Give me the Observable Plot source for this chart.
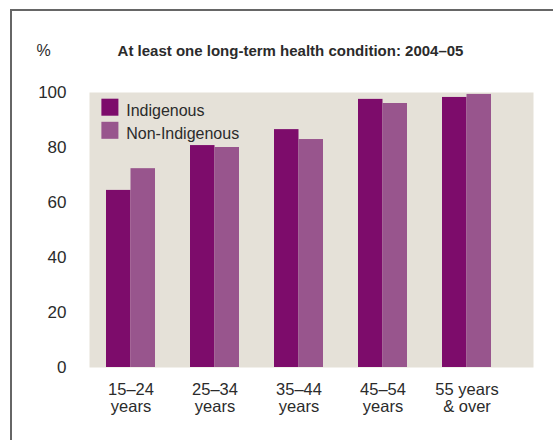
<!DOCTYPE html>
<html>
<head>
<meta charset="utf-8">
<script src="https://cdn.jsdelivr.net/npm/d3@7"></script>
<script src="https://cdn.jsdelivr.net/npm/@observablehq/plot@0.6"></script>
<style>
  html, body { margin: 0; padding: 0; background: #fff; }
  #wrap { position: relative; width: 553px; height: 440px; overflow: hidden; }
  #border { position: absolute; left: 10px; top: 9px; width: 600px; height: 500px;
            border-top: 2px solid #666; border-left: 2px solid #666; }
  #chart { position: absolute; left: 0; top: 0; }
</style>
</head>
<body>
<div id="wrap"><div id="border"></div><div id="chart"></div></div>
<script>
const ageGroups = ["15–24\nyears", "25–34\nyears", "35–44\nyears", "45–54\nyears", "55 years\n& over"];
const indigenous = [64.4, 80.7, 86.5, 97.5, 98.2];
const nonIndigenous = [72.3, 80.0, 82.9, 96.0, 99.3];
const seriesNames = ["Indigenous", "Non-Indigenous"];
const seriesColors = ["#7d0c6b", "#98558d"];
const yTicks = [0, 20, 40, 60, 80, 100];
const titleText = "At least one long-term health condition: 2004–05";
const unitText = "%";

const indRows = ageGroups.map((a, i) => ({age: a, value: indigenous[i], series: seriesNames[0]}));
const nonRows = ageGroups.map((a, i) => ({age: a, value: nonIndigenous[i], series: seriesNames[1]}));
const legendRows = seriesNames.map((s, i) => ({series: s, i}));

const font = "'Liberation Sans', Arial, sans-serif";
const textColor = "#2b2b2b";
const half = 24.5;

const chart = Plot.plot({
  width: 553,
  height: 440,
  marginTop: 92,
  marginBottom: 73,
  marginLeft: 89,
  marginRight: 20,
  style: {fontFamily: font, color: textColor, background: "transparent", overflow: "visible"},
  x: {domain: ageGroups, range: [104, 492], paddingInner: 0.422, paddingOuter: 0, axis: null},
  y: {domain: [0, 100], axis: null},
  color: {domain: seriesNames, range: seriesColors},
  marks: [
    Plot.frame({fill: "#e5e1d8", stroke: "none"}),
    Plot.barY(indRows, {x: "age", y: "value", fill: "series", insetRight: half}),
    Plot.barY(nonRows, {x: "age", y: "value", fill: "series", insetLeft: half}),
    Plot.axisY({ticks: yTicks, tickSize: 0, tickPadding: 23, fontSize: 17, fill: textColor, label: null}),
    Plot.axisX({tickSize: 0, tickPadding: 16, fontSize: 16.5, lineHeight: 1, fill: textColor, label: null}),
    Plot.dot(legendRows.filter(d => d.i === 0), {frameAnchor: "top-left", dx: 20.4, dy: 14.7, symbol: "square", r: 9.6, fill: "series", stroke: "none"}),
    Plot.dot(legendRows.filter(d => d.i === 1), {frameAnchor: "top-left", dx: 20.4, dy: 37.8, symbol: "square", r: 9.6, fill: "series", stroke: "none"}),
    Plot.text(legendRows.filter(d => d.i === 0), {text: "series", frameAnchor: "top-left", dx: 36.7, dy: 23, lineAnchor: "bottom", textAnchor: "start", fontSize: 16, fill: textColor}),
    Plot.text(legendRows.filter(d => d.i === 1), {text: "series", frameAnchor: "top-left", dx: 36.7, dy: 46, lineAnchor: "bottom", textAnchor: "start", fontSize: 16, fill: textColor}),
    Plot.text([titleText], {text: d => d, frameAnchor: "top-left", dx: 201, dy: -37, lineAnchor: "bottom", textAnchor: "middle", fontSize: 15, fontWeight: "bold", fill: textColor}),
    Plot.text([unitText], {text: d => d, frameAnchor: "top-left", dx: -46, dy: -37, lineAnchor: "bottom", textAnchor: "middle", fontSize: 16, fill: textColor})
  ]
});
document.getElementById("chart").appendChild(chart);
</script>
</body>
</html>
